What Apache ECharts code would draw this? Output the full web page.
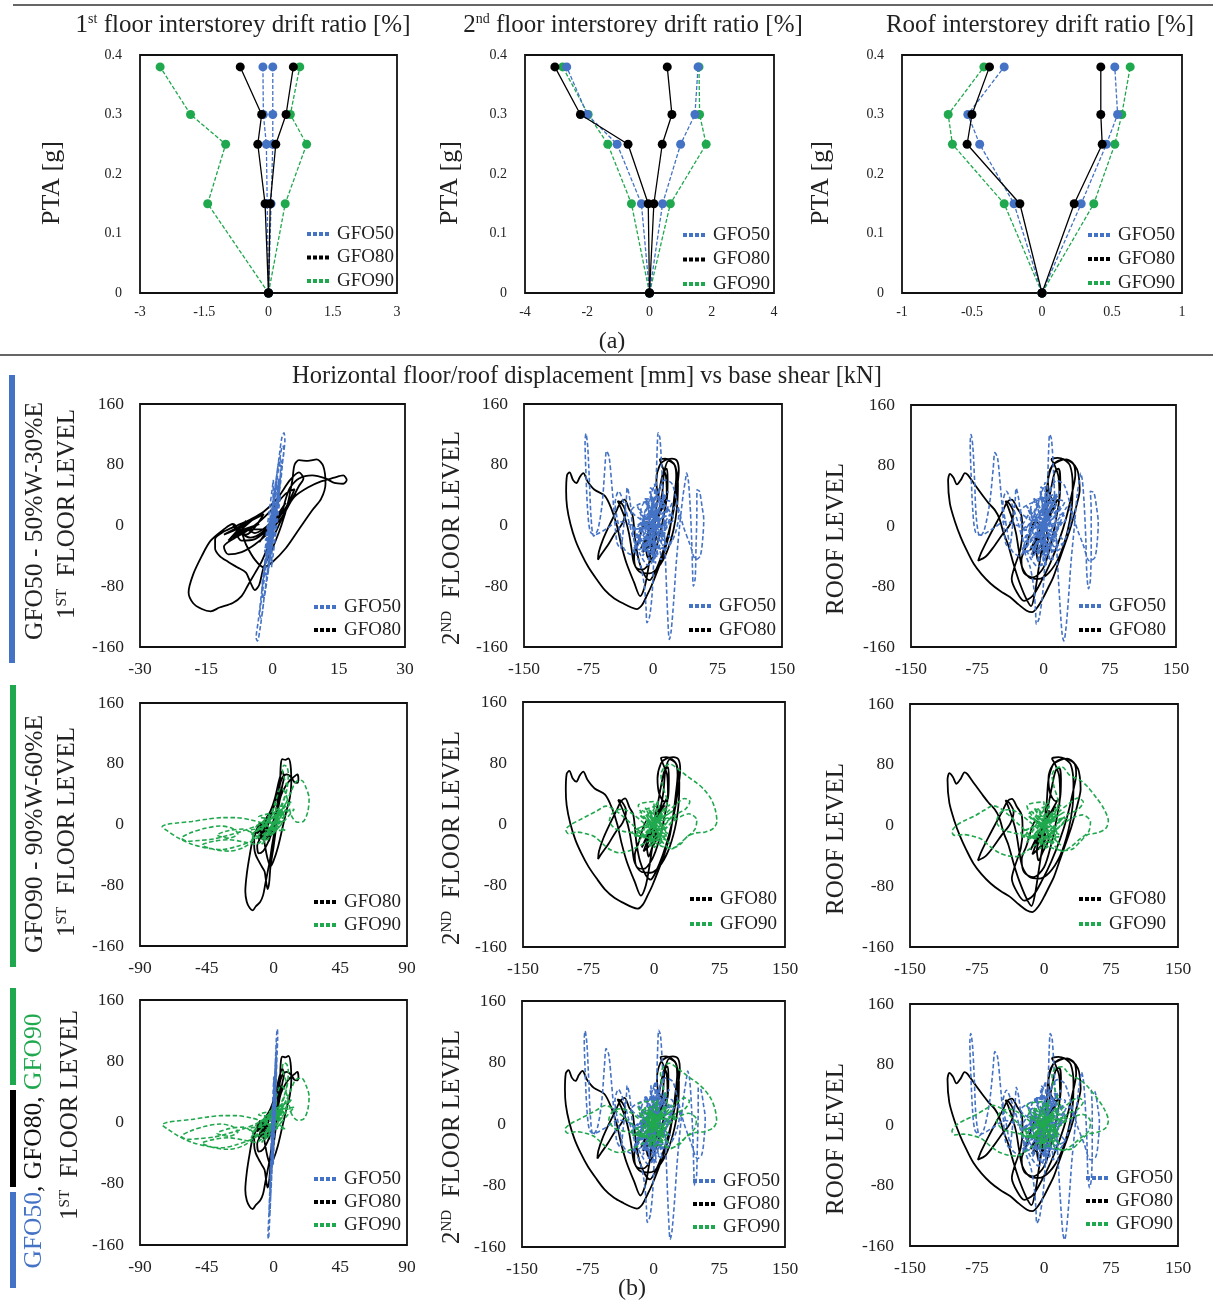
<!DOCTYPE html>
<html><head><meta charset="utf-8">
<script src="https://cdn.jsdelivr.net/npm/echarts@6/dist/echarts.min.js"></script>
<style>html,body{margin:0;padding:0;background:#fff}#c{width:1213px;height:1301px}</style>
</head><body><div id="c"></div>
<script>
const FONT = 'Liberation Serif';
const BLUE = '#4472c4', BLACK = '#000000', GREEN = '#1fa84d', TXT = '#222';

// ---------- (a) drift ratio [%] vs PTA [g] ----------
const pta = [0, 0.15, 0.25, 0.30, 0.38];
const d1_50n = [0, -0.03, -0.05, -0.12, -0.13], d1_50p = [0, 0.06, 0.10, 0.10, 0.10];
const d1_80n = [0, -0.08, -0.25, -0.16, -0.66], d1_80p = [0, 0.04, 0.17, 0.41, 0.58];
const d1_90n = [0, -1.42, -1.00, -1.82, -2.53], d1_90p = [0, 0.39, 0.89, 0.51, 0.73];
const d2_50n = [0, -0.26, -1.04, -2.00, -2.66], d2_50p = [0, 0.42, 1.00, 1.46, 1.56];
const d2_80n = [0, -0.04, -0.69, -2.22, -3.04], d2_80p = [0, 0.14, 0.41, 0.72, 0.57];
const d2_90n = [0, -0.58, -1.34, -1.97, -2.79], d2_90p = [0, 0.67, 1.82, 1.61, 1.59];
const dr_50n = [0, -0.20, -0.445, -0.53, -0.27], dr_50p = [0, 0.28, 0.46, 0.54, 0.52];
const dr_80n = [0, -0.158, -0.535, -0.50, -0.375], dr_80p = [0, 0.23, 0.43, 0.42, 0.42];
const dr_90n = [0, -0.27, -0.64, -0.67, -0.415], dr_90p = [0, 0.37, 0.52, 0.57, 0.63];

// ---------- (b) displacement [mm] vs base shear [kN] ----------
const f1_50 = [[0,0],[0.8,25],[-0.6,-20],[1.2,40],[-1,-35],[1.6,55],[-1.4,-50],[0.5,20],[-0.5,-15],[1.4,30],[-1.6,-20],[0.2,60],[-0.2,-55],[1.8,40],[-1.8,-35],[1,65],[-1,-60],[1.8,70],[1.5,85],[0.8,60],[-0.2,20],[-1.2,-25],[-2,-60],[-2.4,-85],[-2,-95],[-1.2,-70],[-0.2,-30],[0.8,15],[1.8,55],[2.4,90],[2.8,112],[2.6,122],[2.1,115],[1.5,90],[0.6,50],[-0.4,5],[-1.5,-45],[-2.5,-90],[-3.2,-125],[-3.7,-148],[-3.4,-152],[-2.8,-135],[-2,-100],[-1,-55],[0,-10],[1,35],[2,75],[2.6,100],[2.3,105],[1.6,85],[0.7,45],[-0.3,0],[-1.3,-45],[-2.3,-90],[-2.9,-118],[-2.6,-122],[-1.8,-90],[-0.8,-45],[0.2,0],[1.2,45],[2,80],[1.8,88],[1,60],[0,20],[-1,-25],[-1.8,-60],[-1.4,-65],[-0.5,-30],[0.5,10],[1.3,45],[1,50],[0,15],[-0.8,-20],[0.6,30],[-0.4,-40],[1.5,62],[-1.2,-10],[1.1,20],[0,0]];
const f1_80 = [[0,0],[1.5,12],[-1,-8],[2.5,22],[-2,-15],[3,30],[-3,-22],[2,18],[-4,-10],[-6,-5],[-8,-12],[-7,-20],[-4,-18],[-1,-5],[-5,-5],[-9,-15],[-3,2],[-8,-8],[-6,6],[-10,-20],[-4,10],[-7,-2],[-11,-12],[-2,15],[-6,-12],[-9,0],[-5,-16],[2,15],[4,35],[5,48],[3,42],[0,22],[-3,5],[-6,-8],[-9,-18],[-11,-28],[-10,-38],[-7,-35],[-4,-25],[-1,-10],[2,10],[4,30],[6,52],[7,62],[6,70],[4,60],[1,35],[-2,18],[-5,8],[-8,0],[-11,-8],[-13,-18],[-13,-30],[-12,-40],[-10,-48],[-8,-55],[-6,-62],[-5,-75],[-4,-85],[-3,-78],[-2,-55],[0,-30],[2,0],[3.5,30],[4.5,60],[5,80],[6,86],[8,85],[10,87],[11.5,78],[12,55],[11,35],[9,20],[6,-5],[3,-30],[0,-48],[-2,-55],[-4,-45],[-6,-25],[-7,-10],[-9,2],[-11,-5],[-14,-20],[-16,-40],[-18,-65],[-19,-88],[-18,-102],[-16,-110],[-14,-113],[-12,-108],[-9,-102],[-7,-93],[-5.5,-78],[-4,-63],[-2.5,-48],[-1,-28],[1,-5],[3,20],[5,38],[8,50],[11,58],[14,63],[16,66],[16.8,60],[16,55],[14,56],[12,62],[9,66],[6,62],[4,50],[3,35],[2,15],[0,0]];
const f1_90 = [[0,0],[3,10],[-2,-8],[5,16],[-4,-12],[7,24],[-6,-16],[9,30],[-8,-20],[4,12],[-3,-4],[-6,8],[8,-8],[-12,-4],[10,18],[-4,-20],[4,22],[-14,-12],[12,30],[-8,-26],[6,4],[-10,10],[14,20],[0,-12],[2,28],[-10,-14],[-15,-20],[-12,-10],[-5,0],[2,14],[7,34],[9,50],[7,62],[6,72],[7,78],[9,76],[10,66],[9,46],[6,26],[2,6],[-5,-10],[-15,-22],[-25,-29],[-35,-33],[-45,-31],[-55,-26],[-64,-18],[-71,-9],[-75,-3],[-72,0],[-65,2],[-55,4],[-45,7],[-35,9],[-25,9],[-15,6],[-8,2],[-3,-2],[3,6],[8,26],[12,44],[15,56],[19,58],[22,48],[24,34],[23,16],[20,4],[16,3],[12,12],[10,28],[8,42],[5,48],[2,34],[-2,14],[-10,0],[-20,-8],[-30,-14],[-40,-19],[-50,-21],[-58,-22],[-62,-18],[-56,-11],[-46,-5],[-36,-2],[-28,-5],[-24,-12],[-30,-18],[-38,-14],[-30,-8],[-20,-6],[-13,-18],[-20,-30],[-30,-35],[-40,-33],[-48,-27],[-40,-22],[-30,-20],[-20,-23],[-12,-26],[-5,-16],[0,-6],[5,10],[3,20],[-2,10],[-6,-4],[-16,-8],[-8,-18],[2,-2],[8,14],[-4,4],[0,0]];
const f2_50 = [[0,0],[6,18],[-5,-15],[10,30],[-9,-28],[14,40],[-13,-35],[18,25],[-17,-20],[8,50],[-6,-45],[20,5],[-20,-5],[4,30],[-3,-25],[12,-30],[-10,35],[22,30],[-22,-30],[2,55],[-2,-50],[-15,10],[12,-15],[-8,35],[6,-40],[-18,25],[16,-25],[-4,45],[10,-45],[-20,-15],[20,15],[-12,-40],[12,40],[-25,20],[22,-20],[-6,-30],[8,30],[-16,0],[16,0],[0,-35],[0,38],[-10,15],[10,-10],[-22,-35],[18,45],[-5,10],[5,-10],[-14,-28],[14,28],[-24,-5],[24,8],[-3,50],[3,-50],[-12,5],[12,-5],[-12,-20],[-25,0],[-40,5],[-55,-5],[-68,-12],[-73,-8],[-76,20],[-78,70],[-79,110],[-78,121],[-76,105],[-74,60],[-72,10],[-69,-14],[-64,-5],[-59,30],[-56,75],[-54,98],[-51,90],[-48,55],[-45,15],[-42,-22],[-38,-30],[-34,0],[-31,35],[-30,50],[-27,35],[-24,0],[-20,-35],[-14,-55],[-10,-80],[-8,-110],[-7,-128],[-4,-120],[-1,-90],[1,-40],[3,20],[4,70],[5,105],[6,122],[8,115],[10,80],[12,30],[14,-30],[16,-90],[18,-140],[19,-150],[21,-140],[24,-100],[27,-50],[31,0],[35,40],[38,62],[39,69],[41,60],[43,30],[45,-20],[46,-60],[47,-80],[49,-70],[50,-30],[51,20],[51,47],[54,45],[57,25],[59,8],[58,-15],[55,-40],[50,-45],[43,-25],[35,0],[28,30],[22,55],[14,60],[6,45],[-2,20],[-10,0],[-18,-20],[-26,-38],[-34,-30],[-40,0],[-44,30],[-40,45],[-34,30],[-28,5],[-22,-20],[-14,-40],[-6,-52],[2,-40],[10,-20],[18,5],[26,25],[30,15],[26,-10],[18,-28],[10,-32],[2,-20],[-6,0],[-14,20],[-10,30],[-2,20],[6,5],[-8,-12],[4,22],[-16,-4],[14,12],[0,0]];
const f2_80 = [[0,0],[8,15],[-6,-12],[12,25],[-10,-20],[15,35],[-14,-30],[6,20],[-4,-10],[-12,-35],[2,-15],[-8,5],[-18,-25],[-22,-40],[-20,-55],[-12,-58],[-2,-45],[6,-20],[12,10],[16,40],[15,65],[10,80],[8,87],[14,88],[20,86],[26,78],[29,55],[28,25],[24,-5],[16,-35],[6,-55],[-4,-63],[-14,-62],[-22,-50],[-25,-30],[-28,-10],[-32,8],[-38,25],[-41,32],[-37,30],[-32,18],[-36,2],[-44,-10],[-52,-25],[-60,-38],[-64,-45],[-63,-35],[-58,-18],[-50,2],[-43,18],[-38,30],[-33,34],[-28,22],[-24,14],[-22,-2],[-20,-25],[-16,-48],[-10,-65],[-4,-72],[2,-62],[10,-40],[18,-10],[24,20],[28,50],[30,72],[28,85],[22,88],[14,86],[8,80],[4,60],[6,40],[12,30],[16,34],[17,60],[16,75],[12,70],[8,50],[4,25],[0,5],[-4,-15],[-8,-30],[-6,-42],[-2,-30],[4,-15],[2,-2],[-2,-30],[-6,-60],[-10,-82],[-15,-93],[-22,-75],[-31,-49],[-37,-25],[-42,0],[-48,21],[-56,39],[-68,47],[-76,58],[-81,69],[-85,64],[-89,56],[-93,60],[-97,70],[-100,66],[-101,45],[-100,25],[-96,2],[-90,-20],[-83,-38],[-75,-55],[-66,-70],[-56,-85],[-45,-96],[-34,-103],[-25,-108],[-19,-110],[-13,-105],[-7,-92],[-2,-80],[5,-60],[12,-38],[18,-15],[22,12],[25,40],[27,65],[25,80],[18,85],[13,70],[11,45],[8,25],[3,10],[0,0]];
const f2_90 = [[0,0],[8,15],[-8,-12],[12,22],[-12,-18],[18,26],[-18,-22],[5,32],[-5,-30],[25,10],[-25,-10],[10,-22],[-10,22],[16,-12],[-16,12],[-12,8],[14,-6],[-6,20],[8,-22],[-20,-8],[20,10],[-4,-25],[6,25],[-16,15],[16,-15],[-24,-15],[22,18],[-2,0],[10,12],[-10,-12],[4,-8],[-8,4],[18,-25],[-18,25],[0,30],[0,-30],[12,-18],[-12,18],[0,0],[15,30],[10,50],[8,65],[12,75],[18,79],[28,72],[38,63],[48,55],[57,46],[65,34],[70,20],[72,4],[68,-5],[58,-10],[48,-11],[38,-16],[30,-26],[20,-31],[8,-28],[-4,-20],[-15,-10],[-25,0],[-35,10],[-45,19],[-55,24],[-65,18],[-75,12],[-85,6],[-95,0],[-101,-7],[-98,-12],[-88,-10],[-78,-12],[-68,-16],[-58,-26],[-50,-33],[-40,-37],[-30,-35],[-20,-30],[-10,-24],[0,-18],[10,-8],[20,2],[30,10],[40,14],[49,6],[47,-6],[38,-16],[28,-26],[20,-32],[12,-26],[4,-14],[-6,-4],[-16,6],[-26,15],[-36,20],[-46,17],[-51,5],[-45,-5],[-35,-9],[-25,-11],[-15,-16],[-5,-10],[5,2],[15,16],[25,26],[35,34],[41,30],[36,20],[26,14],[15,4],[5,-6],[-8,10],[6,-14],[-4,18],[0,0]];
const r_50 = [[0,0],[7,20],[-6,-16],[11,32],[-10,-30],[15,42],[-14,-38],[19,26],[-18,-22],[9,52],[-7,-48],[22,6],[-22,-6],[5,32],[-4,-26],[13,-32],[-11,36],[24,32],[-24,-32],[2,58],[-2,-52],[-16,12],[13,-16],[-9,36],[7,-42],[-19,26],[17,-26],[-4,46],[11,-46],[-21,-16],[21,16],[-13,-42],[13,42],[-26,20],[23,-21],[-6,-32],[9,32],[-17,0],[17,0],[0,-36],[0,40],[-11,16],[11,-11],[-23,-36],[19,46],[-5,11],[5,-11],[-15,-29],[15,29],[-25,-5],[25,8],[-3,52],[3,-52],[-13,22],[-27,0],[-43,6],[-58,-4],[-71,-12],[-77,-8],[-80,20],[-82,70],[-83,110],[-82,121],[-80,105],[-78,60],[-76,10],[-72,-14],[-67,-5],[-61,30],[-57,75],[-55,97],[-52,90],[-49,55],[-46,15],[-43,-22],[-39,-30],[-35,0],[-32,35],[-31,50],[-28,35],[-25,0],[-21,-35],[-15,-55],[-11,-82],[-9,-112],[-8,-130],[-5,-122],[-1,-90],[2,-40],[4,20],[5,70],[6,105],[7,121],[9,115],[11,80],[13,30],[15,-30],[18,-92],[21,-142],[23,-152],[25,-140],[28,-100],[31,-50],[35,0],[38,40],[41,64],[42,70],[44,60],[46,30],[48,-20],[49,-62],[51,-83],[53,-72],[54,-30],[54,20],[53,46],[57,44],[60,25],[62,4],[61,-18],[58,-42],[52,-46],[45,-25],[37,0],[30,30],[23,55],[15,60],[6,45],[-2,20],[-11,0],[-19,-20],[-27,-40],[-36,-32],[-42,0],[-46,30],[-42,46],[-36,30],[-29,5],[-23,-20],[-15,-42],[-6,-54],[2,-42],[11,-20],[19,5],[27,25],[32,15],[27,-10],[19,-30],[11,-34],[2,-20],[-6,0],[-15,20],[-11,32],[-2,20],[6,5],[-9,-14],[5,24],[0,0]];
const r_80 = [[0,0],[8,15],[-7,-12],[13,25],[-11,-22],[16,35],[-15,-32],[6,20],[-5,-12],[-13,-38],[2,-16],[-9,6],[-20,-28],[-25,-45],[-22,-62],[-12,-68],[0,-55],[8,-25],[14,8],[18,40],[17,65],[12,82],[9,88],[16,90],[23,88],[30,80],[33,55],[32,25],[27,-8],[18,-40],[6,-62],[-6,-70],[-16,-68],[-24,-55],[-28,-32],[-31,-10],[-35,8],[-40,25],[-43,33],[-39,30],[-34,18],[-38,2],[-47,-12],[-56,-27],[-65,-40],[-74,-46],[-70,-34],[-62,-15],[-53,5],[-46,20],[-41,32],[-36,35],[-30,24],[-25,14],[-24,-5],[-26,-30],[-33,-55],[-36,-70],[-30,-88],[-22,-99],[-12,-92],[-2,-72],[8,-48],[18,-18],[26,12],[32,42],[36,68],[34,82],[26,88],[18,86],[10,80],[5,62],[7,42],[13,32],[18,36],[19,62],[17,76],[13,72],[9,52],[5,28],[0,6],[-4,-14],[-8,-32],[-6,-46],[-1,-34],[5,-18],[2,-2],[-2,-30],[-6,-60],[-10,-90],[-14,-106],[-20,-95],[-28,-72],[-34,-50],[-40,-25],[-45,-10],[-50,10],[-55,21],[-62,30],[-68,39],[-78,55],[-86,68],[-89,70],[-93,62],[-98,55],[-102,64],[-106,69],[-108,60],[-106,30],[-100,5],[-94,-14],[-87,-32],[-79,-50],[-70,-64],[-60,-76],[-49,-86],[-38,-94],[-28,-104],[-19,-112],[-13,-114],[-6,-106],[0,-94],[6,-80],[11,-68],[17,-48],[23,-28],[29,-8],[34,12],[38,30],[41,48],[40,65],[38,75],[32,84],[23,88],[16,86],[10,80],[5,60],[3,30],[0,0]];
const r_90 = [[0,0],[8,16],[-8,-12],[13,23],[-13,-18],[19,27],[-19,-22],[5,33],[-5,-31],[26,10],[-26,-10],[11,-23],[-11,23],[17,-12],[-17,12],[-13,8],[15,-6],[-6,21],[8,-23],[-21,-8],[21,10],[-4,-26],[6,26],[-17,15],[17,-15],[-25,-15],[23,18],[-2,0],[11,12],[-11,-12],[4,-8],[-8,4],[19,-26],[-19,26],[0,31],[0,-31],[13,-18],[-13,18],[0,0],[16,30],[11,52],[9,66],[13,75],[20,77],[29,66],[40,60],[48,52],[59,36],[67,22],[72,6],[69,-4],[59,-10],[49,-12],[40,-22],[32,-31],[22,-33],[10,-30],[-4,-22],[-16,-12],[-27,0],[-38,12],[-48,22],[-57,26],[-67,20],[-77,13],[-88,7],[-98,0],[-103,-8],[-100,-13],[-90,-12],[-80,-14],[-70,-18],[-60,-28],[-50,-36],[-40,-40],[-30,-41],[-20,-34],[-10,-26],[0,-19],[10,-9],[21,2],[32,10],[43,14],[52,5],[50,-8],[40,-18],[30,-28],[21,-34],[12,-27],[4,-15],[-6,-5],[-17,6],[-28,16],[-38,21],[-48,18],[-53,5],[-47,-5],[-37,-9],[-26,-12],[-16,-17],[-5,-11],[5,2],[16,17],[27,28],[38,36],[44,31],[38,21],[27,15],[16,4],[5,-6],[-8,10],[6,-14],[0,0]];

// tick settings
const ptaTicks = {min: 0, max: 0.4, interval: 0.1};
const driftX = [{min:-3,max:3,interval:1.5},{min:-4,max:4,interval:2},{min:-1,max:1,interval:0.5}];
const shearTicks = {min:-160, max:160, interval:80};
const dispX = [
  {min:-30,max:30,interval:15},{min:-150,max:150,interval:75},{min:-150,max:150,interval:75},
  {min:-90,max:90,interval:45},{min:-150,max:150,interval:75},{min:-150,max:150,interval:75},
  {min:-90,max:90,interval:45},{min:-150,max:150,interval:75},{min:-150,max:150,interval:75}];

// layout
const grids = [
  [140,55,257,238],[525,55,249,238],[902,55,280,238],
  [140,404,265,243],[524,404,258,243],[911,405,265,242],
  [140,703,267,243],[523,702,262,245],[910,704,268,243],
  [140,1000,267,245],[522,1001,263,246],[910,1004,268,242]];

const option = {animation:false, backgroundColor:'#fff', grid:[], xAxis:[], yAxis:[], series:[], legend:[], graphic:[]};
grids.forEach((g,i)=>{
  option.grid.push({left:g[0], top:g[1], width:g[2], height:g[3], show:true, borderColor:'#111', borderWidth:1.8, backgroundColor:'transparent'});
  const top = i < 3;
  const xt = top ? driftX[i] : dispX[i-3];
  const yt = top ? ptaTicks : shearTicks;
  const fs = top ? 14 : 17.5;
  option.xAxis.push({type:'value', gridIndex:i, min:xt.min, max:xt.max, interval:xt.interval,
    axisLine:{show:false}, axisTick:{show:false}, splitLine:{show:false},
    axisLabel:{fontFamily:FONT, fontSize:fs, color:TXT, margin: top?12:13, showMinLabel:true, showMaxLabel:true}});
  option.yAxis.push({type:'value', gridIndex:i, min:yt.min, max:yt.max, interval:yt.interval,
    axisLine:{show:false}, axisTick:{show:false}, splitLine:{show:false},
    axisLabel:{fontFamily:FONT, fontSize:fs, color:TXT, margin: top?18:16, showMinLabel:true, showMaxLabel:true}});
});

function drift(gi, name, arr, color, dashed){
  option.series.push({type:'line', name, xAxisIndex:gi, yAxisIndex:gi,
    data: pta.map((p,k)=>[arr[k], p]), symbol:'circle', symbolSize:9, showSymbol:true,
    itemStyle:{color}, lineStyle:{color, width:1.3, type: dashed ? [4,2] : 'solid'}, silent:true, z: name==='GFO80'?4:(name==='GFO50'?3:2)});
}
[[d1_50n,d1_50p,d1_80n,d1_80p,d1_90n,d1_90p],[d2_50n,d2_50p,d2_80n,d2_80p,d2_90n,d2_90p],[dr_50n,dr_50p,dr_80n,dr_80p,dr_90n,dr_90p]].forEach((s,gi)=>{
  drift(gi,'GFO90',s[4],GREEN,true); drift(gi,'GFO90',s[5],GREEN,true);
  drift(gi,'GFO50',s[0],BLUE,true); drift(gi,'GFO50',s[1],BLUE,true);
  drift(gi,'GFO80',s[2],BLACK,false); drift(gi,'GFO80',s[3],BLACK,false);
});

function hyst(gi, name, data, color, dashed, z){
  option.series.push({type:'line', name, xAxisIndex:gi, yAxisIndex:gi, data, symbol:'none', showSymbol:false,
    smooth:0.3, itemStyle:{color}, lineStyle:{color, width: dashed?1.6:1.8, type: dashed ? [4.5,2.5] : 'solid'}, silent:true, z});
}
// row 1: GFO50 vs GFO80
hyst(3,'GFO80',f1_80,BLACK,false,2); hyst(3,'GFO50',f1_50,BLUE,true,3);
hyst(4,'GFO80',f2_80,BLACK,false,2); hyst(4,'GFO50',f2_50,BLUE,true,3);
hyst(5,'GFO80',r_80,BLACK,false,2); hyst(5,'GFO50',r_50,BLUE,true,3);
// row 2: GFO80 vs GFO90
hyst(6,'GFO80',f1_80,BLACK,false,2); hyst(6,'GFO90',f1_90,GREEN,true,3);
hyst(7,'GFO80',f2_80,BLACK,false,2); hyst(7,'GFO90',f2_90,GREEN,true,3);
hyst(8,'GFO80',r_80,BLACK,false,2); hyst(8,'GFO90',r_90,GREEN,true,3);
// row 3: all three
hyst(9,'GFO80',f1_80,BLACK,false,2); hyst(9,'GFO90',f1_90,GREEN,true,3); hyst(9,'GFO50',f1_50,BLUE,true,4);
hyst(10,'GFO80',f2_80,BLACK,false,2); hyst(10,'GFO50',f2_50,BLUE,true,3); hyst(10,'GFO90',f2_90,GREEN,true,4);
hyst(11,'GFO80',r_80,BLACK,false,2); hyst(11,'GFO50',r_50,BLUE,true,3); hyst(11,'GFO90',r_90,GREEN,true,4);

// legends
const ICON = 'path://M0,0H4V4H0ZM6,0H10V4H6ZM12,0H16V4H12ZM18,0H22V4H18Z';
function leg(left, top, names, gap){
  option.legend.push({data:names, left, top, orient:'vertical', icon:ICON, itemWidth:22, itemHeight:4, itemGap:gap,
    selectedMode:false, textStyle:{fontFamily:FONT, fontSize:19, color:TXT, lineHeight:20, padding:[0,0,0,3]}});
}
const A3 = ['GFO50','GFO80','GFO90'];
leg(302,219,A3,3.5); leg(678,220,A3,4.5); leg(1083,220,A3,4);
leg(309,592,['GFO50','GFO80'],3); leg(684,591,['GFO50','GFO80'],4); leg(1074,591,['GFO50','GFO80'],4);
leg(309,887,['GFO80','GFO90'],3); leg(685,884,['GFO80','GFO90'],5); leg(1074,884,['GFO80','GFO90'],5);
leg(309,1164,A3,3); leg(688,1166,A3,3); leg(1081,1163,A3,3);

// texts
function txt(x, y, text, rich, rot){
  option.graphic.push({type:'text', x, y, rotation: rot ? Math.PI/2 : 0, silent:true, z:10,
    style:{text, x:0, y:0, align:'center', verticalAlign:'middle', textAlign:'center', textVerticalAlign:'middle',
      fontFamily:FONT, fontSize:26, fill:TXT, rich}});
}
const R = (big, small, color) => ({m:{fontFamily:FONT, fontSize:big, fill:color||TXT}, s:{fontFamily:FONT, fontSize:small, fill:color||TXT, verticalAlign:'top'}});
txt(243,25,'{m|1}{s|st}{m| floor interstorey drift ratio [%]}', R(25,14));
txt(633,25,'{m|2}{s|nd}{m| floor interstorey drift ratio [%]}', R(25,14));
txt(1040,25,'{m|Roof interstorey drift ratio [%]}', R(25,14));
[52,450,821].forEach(x=>txt(x,183,'{m|PTA [g]}', R(26,14), true));
txt(612,342,'{m|(a)}', R(24,14));
txt(587,377,'{m|Horizontal floor/roof displacement [mm] vs base shear [kN]}', R(24.5,14));
txt(632,1289,'{m|(b)}', R(24,14));
[514,832,1115].forEach((y,i)=>txt(i===2?70:67,y,'{m|1}{s|ST}{m|  FLOOR LEVEL}', R(25,15), true));
[538,838,1137].forEach(y=>txt(452,y,'{m|2}{s|ND}{m|  FLOOR LEVEL}', R(25,15), true));
[539,839,1139].forEach(y=>txt(836,y,'{m|ROOF LEVEL}', R(25,15), true));
txt(35,521,'{m|GFO50 - 50%W-30%E}', R(25.5,15), true);
txt(35,834,'{m|GFO90 - 90%W-60%E}', R(25.5,15), true);
txt(34,1141,'{b|GFO50}{k|, GFO80, }{g|GFO90}', {
  b:{fontFamily:FONT,fontSize:25.5,fill:BLUE}, k:{fontFamily:FONT,fontSize:25.5,fill:'#111'}, g:{fontFamily:FONT,fontSize:25.5,fill:GREEN}}, true);

// colour bars and separators
function rect(x,y,w,h,c){ option.graphic.push({type:'rect', silent:true, shape:{x,y,width:w,height:h}, style:{fill:c}}); }
rect(9,375,6,288,BLUE);
rect(10,685,6,282,GREEN);
rect(10,988,6,97,GREEN); rect(10,1090,6,97,'#000'); rect(10,1192,6,96,BLUE);
function hline(x1,x2,y){ option.graphic.push({type:'line', silent:true, shape:{x1,y1:y,x2,y2:y}, style:{stroke:'#333', lineWidth:1.3}}); }
hline(13,1213,5); hline(0,1213,355);

echarts.init(document.getElementById('c'), null, {renderer:'canvas'}).setOption(option);
</script></body></html>
